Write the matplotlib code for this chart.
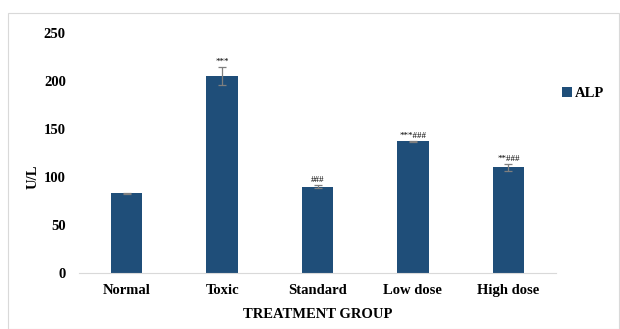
import numpy as np
import matplotlib.pyplot as plt
from matplotlib.patches import Rectangle

# ALP levels per treatment group
groups = ['Normal', 'Toxic', 'Standard', 'Low dose', 'High dose']
alp = [83, 205, 90, 137, 110]
alp_err = [0.6, 9.5, 1.5, 1.0, 3.5]
signif = ['', '***', '###', '***###', '**###']

plt.rcParams['font.family'] = ['Liberation Serif', 'DejaVu Serif']
plt.rcParams['font.weight'] = 'bold'

fig = plt.figure(figsize=(6.2, 3.29), dpi=100)
ax = fig.add_axes([0.1274, 0.1702, 0.7694, 0.7295])

x = np.arange(len(groups))
bars = ax.bar(x, alp, width=0.33, color='#1f4e79', yerr=alp_err,
              error_kw=dict(ecolor='#7f7f7f', elinewidth=0.9, capsize=3, capthick=0.9),
              label='ALP')

for xi, v, e, s in zip(x, alp, alp_err, signif):
    if s:
        ax.text(xi, v + e + 1, s, ha='center', va='bottom', fontsize=6.5, fontweight='normal')

ax.set_xlim(-0.5, len(groups) - 0.5)
ax.set_ylim(0, 250)
ax.set_yticks(range(0, 251, 50))
ax.set_xticks(x)
ax.set_xticklabels(groups, fontsize=10.5, fontweight='bold')
ax.tick_params(axis='y', labelsize=10.5, length=0, pad=9.5)
ax.tick_params(axis='x', length=0, pad=8)
for lab in ax.get_yticklabels():
    lab.set_fontweight('bold')

for side in ['top', 'right', 'left']:
    ax.spines[side].set_visible(False)
ax.spines['bottom'].set_color('#d9d9d9')

ax.set_ylabel('U/L', fontsize=10.5, fontweight='bold')
ax.yaxis.set_label_coords(-0.083, 0.40)
ax.set_xlabel('TREATMENT GROUP', fontsize=10.5, fontweight='bold', labelpad=8)

ax.legend(loc='upper left', bbox_to_anchor=(0.985, 0.83), frameon=False,
          fontsize=10.5, handlelength=0.7, handleheight=0.7, handletextpad=0.2)

# light border around the whole chart area
fig.patches.append(Rectangle((0.013, 0.0), 0.985, 0.96, transform=fig.transFigure,
                             fill=False, edgecolor='#d9d9d9', linewidth=0.8))

fig.savefig('out.png', dpi=100)
